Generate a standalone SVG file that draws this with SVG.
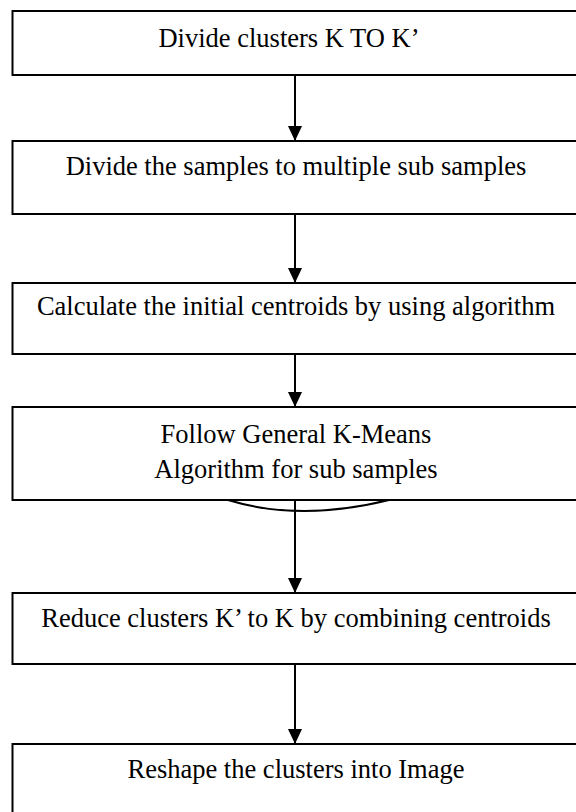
<svg xmlns="http://www.w3.org/2000/svg" width="576" height="812" viewBox="0 0 576 812">
<style>
.box{fill:#fff;stroke:#000;stroke-width:2}
.t{font-family:"Liberation Serif","Times New Roman",serif;font-size:26.5px;fill:#000;text-anchor:middle}
.c{fill:none;stroke:#000;stroke-width:2}
</style>
<defs>
<marker id="ah" markerUnits="userSpaceOnUse" markerWidth="16" markerHeight="16" viewBox="0 0 16 16" refX="15" refY="8" orient="auto">
<path d="M0,1 L15,8 L0,15 Z" fill="#000"/>
</marker>
</defs>
<rect width="576" height="812" fill="#fff"/>
<g id="n1"><rect class="box" x="12.5" y="11" width="570" height="64"/><text class="t" x="289" y="47">Divide clusters K TO K’</text></g>
<g id="n2"><rect class="box" x="12.5" y="141" width="570" height="73"/><text class="t" x="296" y="175">Divide the samples to multiple sub samples</text></g>
<g id="n3"><rect class="box" x="12.5" y="283" width="570" height="71"/><text class="t" x="296" y="315">Calculate the initial centroids by using algorithm</text></g>
<g id="n4"><rect class="box" x="12.5" y="407" width="570" height="93"/><text class="t" x="296" y="443">Follow General K-Means</text><text class="t" x="296" y="478">Algorithm for sub samples</text><path class="c" d="M228,500 Q300,522 389,500" stroke-width="1.5"/></g>
<g id="n5"><rect class="box" x="12.5" y="593" width="570" height="71"/><text class="t" x="296" y="627">Reduce clusters K’ to K by combining centroids</text></g>
<g id="n6"><rect class="box" x="12.5" y="744" width="570" height="80"/><text class="t" x="296" y="778">Reshape the clusters into Image</text></g>
<g id="connectors">
<line class="c" x1="295" y1="75" x2="295" y2="141" marker-end="url(#ah)"/>
<line class="c" x1="295" y1="214" x2="295" y2="283" marker-end="url(#ah)"/>
<line class="c" x1="295" y1="354" x2="295" y2="407" marker-end="url(#ah)"/>
<line class="c" x1="295" y1="500" x2="295" y2="593" marker-end="url(#ah)"/>
<line class="c" x1="295" y1="664" x2="295" y2="744" marker-end="url(#ah)"/>
</g>
</svg>
